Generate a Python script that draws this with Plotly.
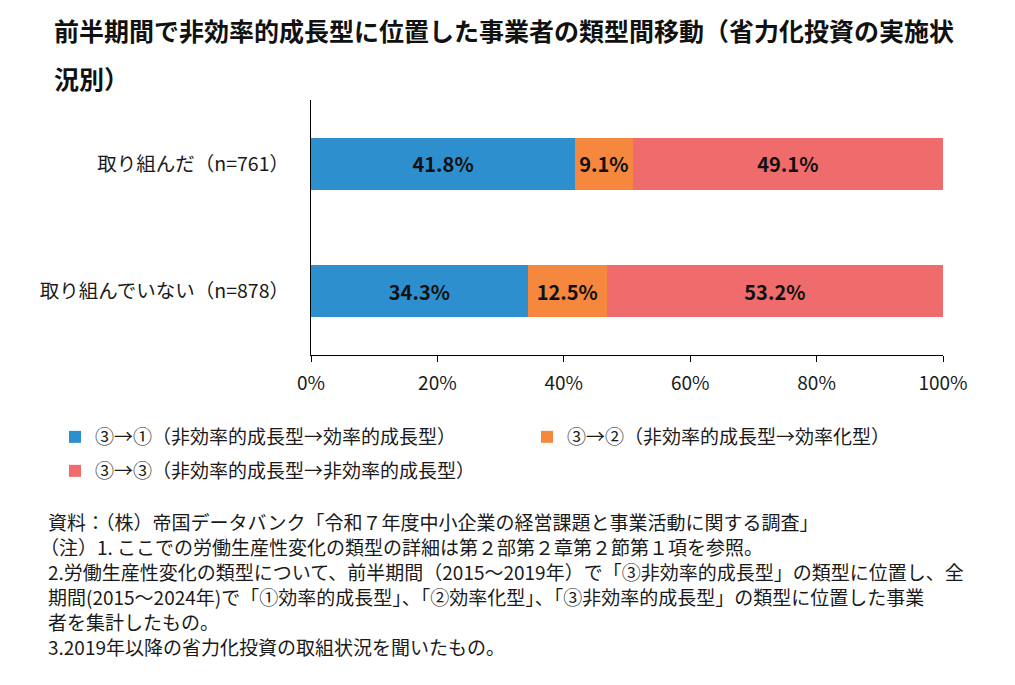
import plotly.graph_objects as go

categories = ["取り組んだ（n=761）", "取り組んでいない（n=878）"]
series_names = [
    "③→①（非効率的成長型→効率的成長型）",
    "③→②（非効率的成長型→効率化型）",
    "③→③（非効率的成長型→非効率的成長型）",
]
s1 = [41.8, 34.3]
s2 = [9.1, 12.5]
s3 = [49.1, 53.2]
colors = ["#2E8FCE", "#F5883E", "#F06B6B"]
tick_vals = [0, 20, 40, 60, 80, 100]
tick_text = ["0%", "20%", "40%", "60%", "80%", "100%"]

title_lines = ["前半期間で非効率的成長型に位置した事業者の類型間移動（省力化投資の実施状", "況別）"]
notes = [
    "資料：（株）帝国データバンク「令和７年度中小企業の経営課題と事業活動に関する調査」",
    "（注）1. ここでの労働生産性変化の類型の詳細は第２部第２章第２節第１項を参照。",
    "2.労働生産性変化の類型について、前半期間（2015～2019年）で「③非効率的成長型」の類型に位置し、全",
    "期間(2015～2024年)で「①効率的成長型」、「②効率化型」、「③非効率的成長型」の類型に位置した事業",
    "者を集計したもの。",
    "3.2019年以降の省力化投資の取組状況を聞いたもの。",
]

FONT = "Noto Sans CJK JP"
TXT = "#1a1a1a"

fig = go.Figure()
legend_ids = ["legend", "legend2", "legend3"]
for name, vals, c, lg in zip(series_names, [s1, s2, s3], colors, legend_ids):
    fig.add_trace(go.Bar(
        y=categories, x=vals, name=name, orientation="h",
        marker=dict(color=c, line=dict(width=0)),
        text=vals, texttemplate="<b>%{x:.1f}%</b>",
        textposition="inside", insidetextanchor="middle",
        textfont=dict(family=FONT, size=20, color="#111111"),
        legend=lg,
    ))

W, H = 1015, 685
L, R, T, B = 311, 72, 100, 330

def lg_pos(px, py):
    return dict(xref="container", yref="container", x=px / W, y=1 - py / H,
                xanchor="left", yanchor="middle", orientation="h",
                font=dict(family=FONT, size=19, color=TXT), itemwidth=30,
                bgcolor="rgba(0,0,0,0)", borderwidth=0)

fig.update_layout(
    width=W, height=H,
    margin=dict(l=L, r=R, t=T, b=B),
    paper_bgcolor="white", plot_bgcolor="white",
    barmode="stack", bargap=0.59,
    showlegend=True,
    legend=lg_pos(55, 437),
    legend2=lg_pos(527, 437),
    legend3=lg_pos(55, 471),
    xaxis=dict(range=[0, 100], tickvals=tick_vals, ticktext=tick_text,
               showgrid=False, zeroline=False, showline=True, linecolor="#000000", linewidth=1.2,
               ticks="outside", ticklen=6, tickcolor="#000000", ticklabelstandoff=5,
               tickfont=dict(family=FONT, size=19, color=TXT), fixedrange=True),
    yaxis=dict(categoryorder="array", categoryarray=categories[::-1],
               showgrid=False, zeroline=False, showline=True, linecolor="#000000", linewidth=1.2,
               ticks="", ticklabelstandoff=17,
               tickfont=dict(family=FONT, size=19.5, color=TXT), fixedrange=True),
)

title_y = [30, 78]
for line, yy in zip(title_lines, title_y):
    fig.add_annotation(text="<b>" + line + "</b>", xref="paper", yref="paper",
                       x=(52 - L) / (W - L - R), y=1 + (T - yy) / (H - T - B),
                       xanchor="left", yanchor="middle", showarrow=False,
                       font=dict(family=FONT, size=25, color="#111111"))

note_x = [46, 38, 46, 46, 46, 46]
for i, (line, nx) in enumerate(zip(notes, note_x)):
    yy = 521 + 25 * i
    fig.add_annotation(text=line, xref="paper", yref="paper",
                       x=(nx - L) / (W - L - R), y=1 + (T - yy) / (H - T - B),
                       xanchor="left", yanchor="middle", showarrow=False,
                       font=dict(family=FONT, size=19, color=TXT))

fig.write_html("out.html")
